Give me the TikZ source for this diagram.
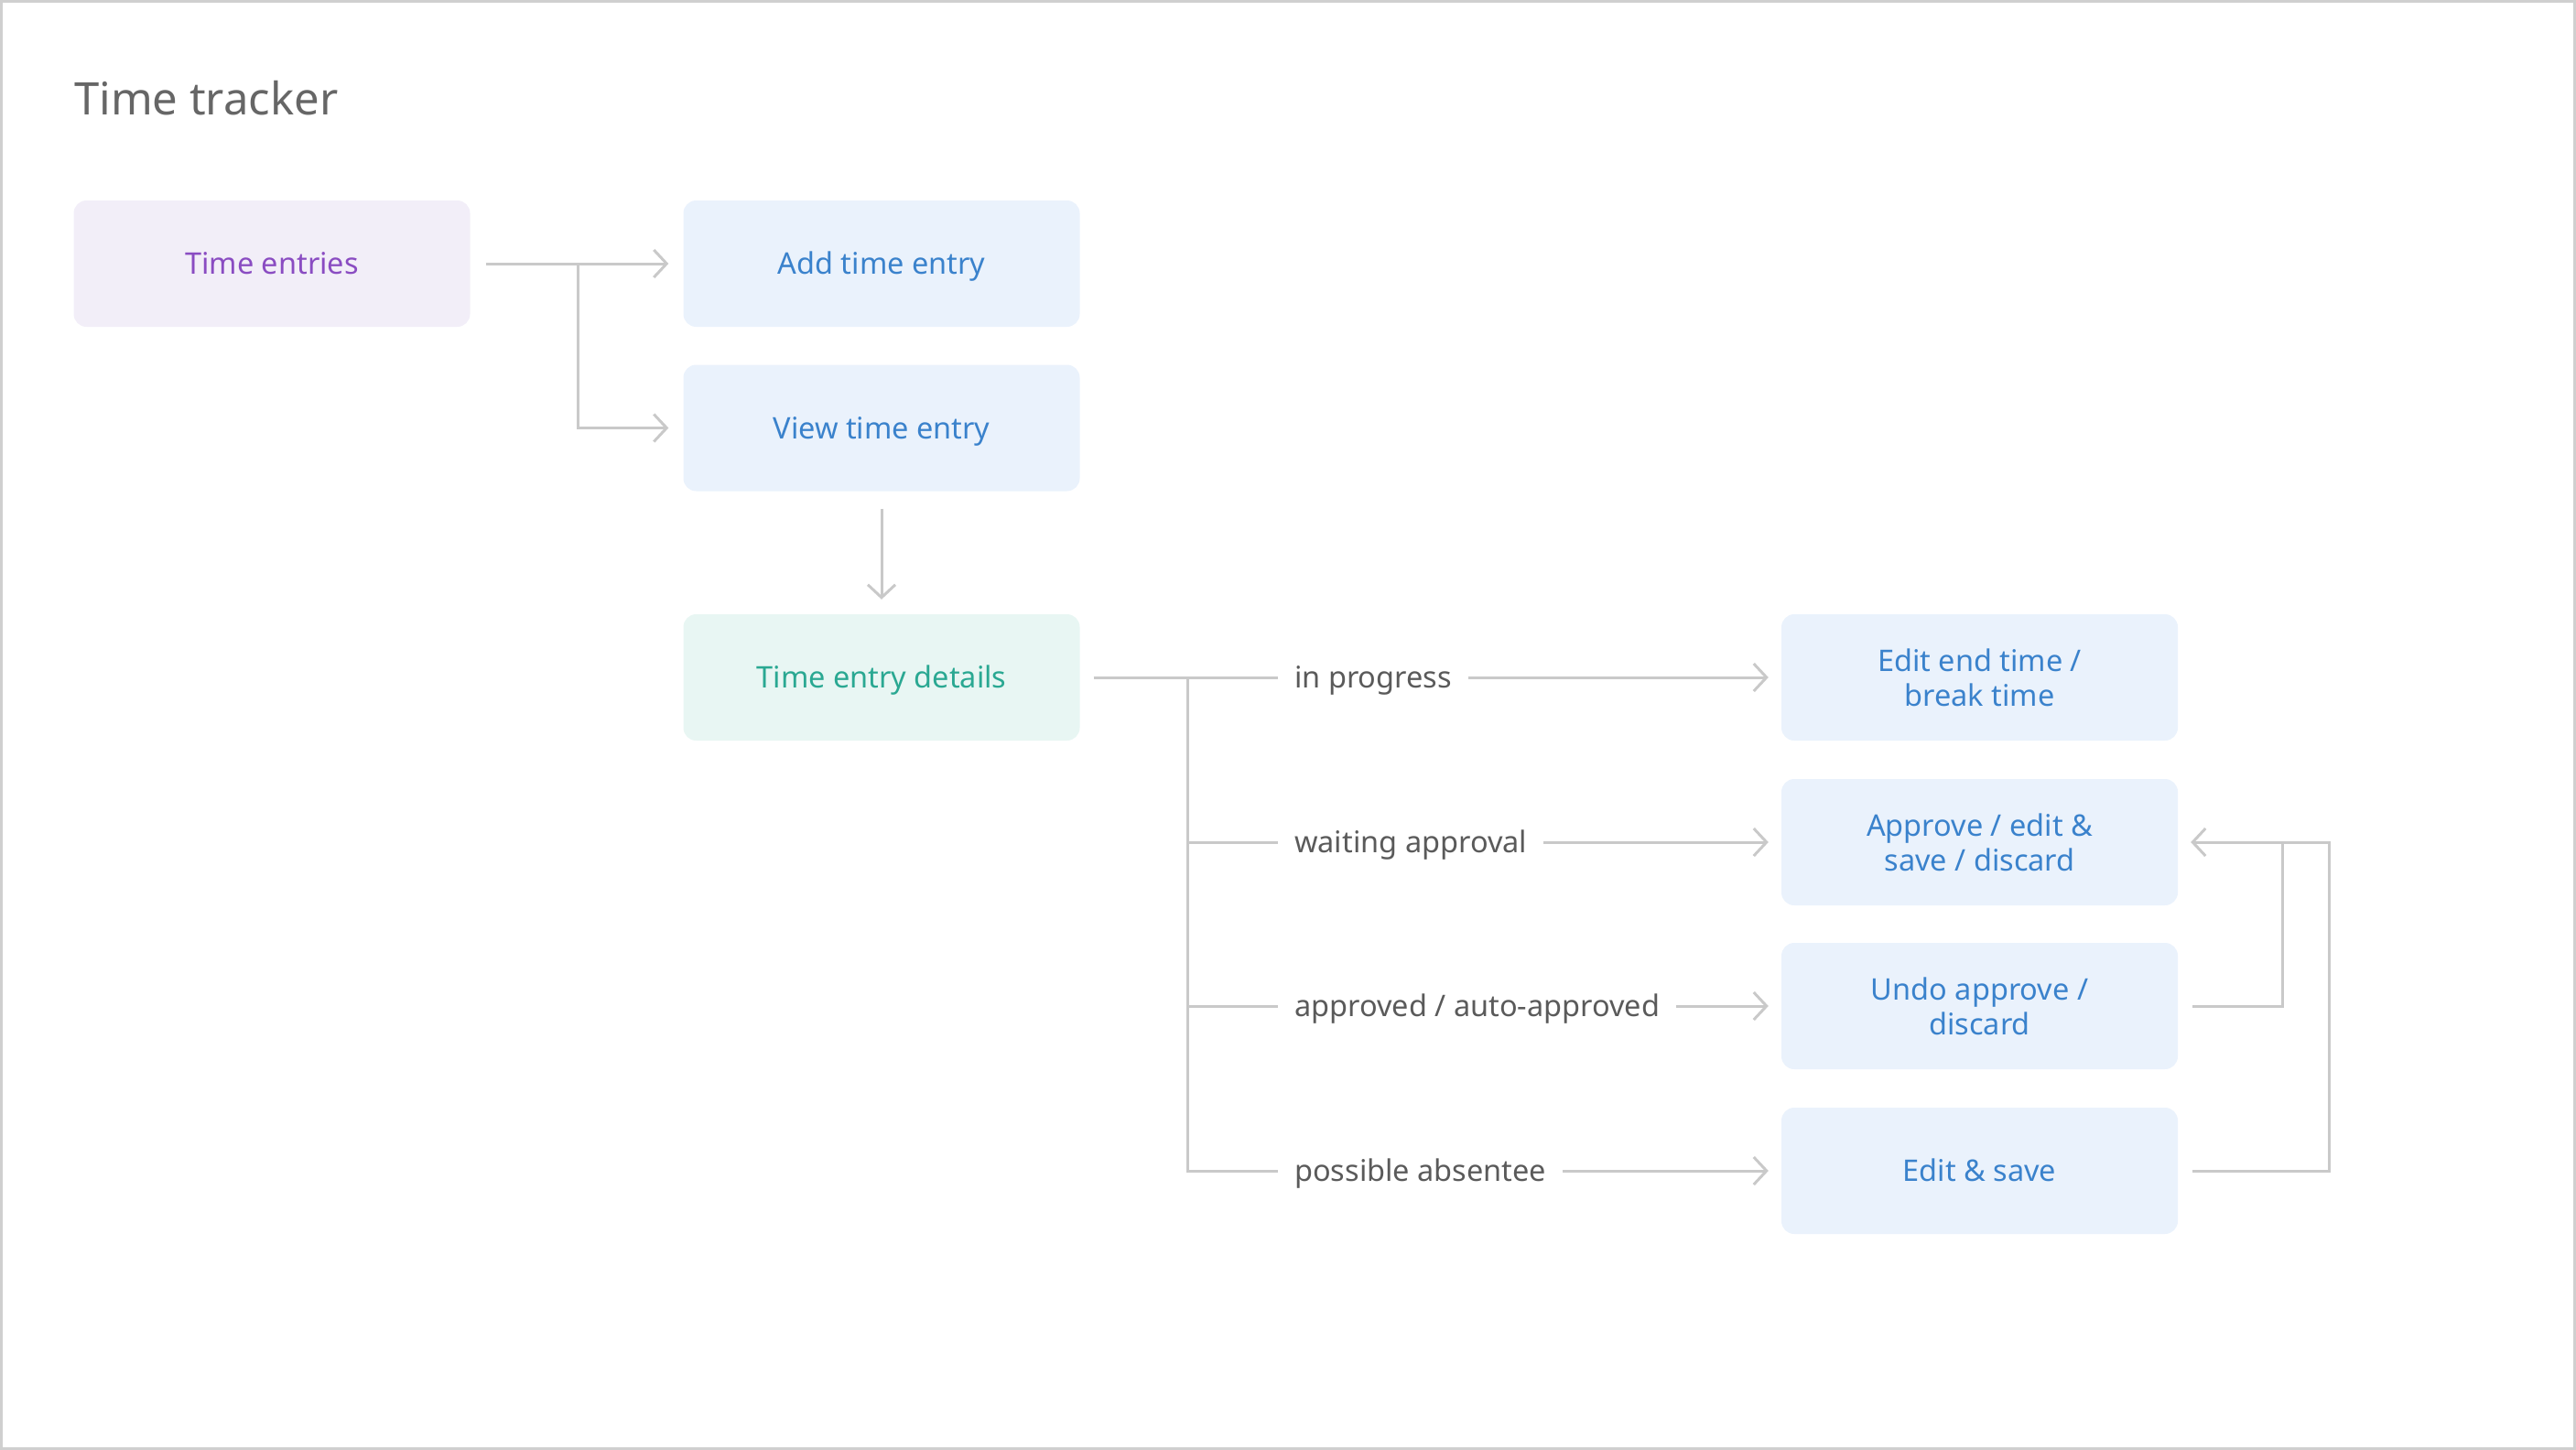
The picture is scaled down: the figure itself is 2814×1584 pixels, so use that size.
\documentclass[tikz,border=0pt]{standalone}
\usepackage{fontspec}
\setmainfont{Noto Sans}
\usetikzlibrary{arrows.meta,calc}
\definecolor{linegray}{HTML}{C9C9C9}
\definecolor{framegray}{HTML}{CFCFCF}
\definecolor{titlegray}{HTML}{666666}
\definecolor{labelgray}{HTML}{5A5A5A}
\definecolor{purplefill}{HTML}{F2EEF8}
\definecolor{purpletext}{HTML}{8A4CC2}
\definecolor{bluefill}{HTML}{EAF2FC}
\definecolor{bluetext}{HTML}{3A82CC}
\definecolor{greenfill}{HTML}{E8F6F3}
\definecolor{greentext}{HTML}{2AA892}
\tikzset{
  boxbase/.style={rectangle, rounded corners=14pt, minimum width=433pt, minimum height=138pt,
    inner sep=0pt, align=center, font=\fontsize{32.5}{38}\selectfont},
  oneline/.style={text height=29.25pt, text depth=6.05pt},
  purplebox/.style={boxbase, oneline, fill=purplefill, text=purpletext},
  bluebox/.style={boxbase, fill=bluefill, text=bluetext},
  greenbox/.style={boxbase, oneline, fill=greenfill, text=greentext},
  condlabel/.style={inner xsep=18pt, inner ysep=0pt, anchor=west, text=labelgray,
    font=\fontsize{32.5}{38}\selectfont, oneline},
  conn/.style={draw=linegray, line width=3pt},
  arrowconn/.style={conn, -{Straight Barb[length=14pt, width=30pt, line width=3pt]}},
}
\begin{document}
\begin{tikzpicture}[x=1pt, y=-1pt]
\useasboundingbox (0,0) rectangle (2814,1584);
\draw[framegray, line width=3pt] (1.5,1.5) rectangle (2812.5,1582.5);

\node[anchor=base west, text=titlegray, font=\fontsize{49}{58}\selectfont, inner sep=0pt] (title) at (81,126) {Time tracker};

\node[purplebox] (te) at (297,288) {Time entries};
\node[bluebox, oneline] (add) at (963,288) {Add time entry};
\node[bluebox, oneline] (view) at (963,467.5) {View time entry};
\node[greenbox] (det) at (963,740) {Time entry details};

\node[bluebox] (r1) at (2162.5,740) {Edit end time /\\break time};
\node[bluebox] (r2) at (2162.5,920) {Approve / edit \&\\save / discard};
\node[bluebox] (r3) at (2162.5,1099) {Undo approve /\\discard};
\node[bluebox, oneline] (r4) at (2162.5,1279) {Edit \& save};

\node[condlabel] (l1) at (1396,740) {in progress};
\node[condlabel] (l2) at (1396,920) {waiting approval};
\node[condlabel] (l3) at (1396,1099) {approved / auto-approved};
\node[condlabel] (l4) at (1396,1279) {possible absentee};

% top branch
\coordinate (tb) at (631,288);
\draw[arrowconn, shorten <=17pt, shorten >=16pt] (te.east) -- (add.west);
\draw[arrowconn, shorten >=16pt] (tb) |- (view.west);
\draw[arrowconn, shorten <=19pt, shorten >=16pt] (view.south) -- (det.north);

% details branch
\coordinate (db) at (1297,740);
\draw[conn, shorten <=15pt] (det.east) -- (l1.west);
\draw[conn] (db) |- (l2.west);
\draw[conn] (db) |- (l3.west);
\draw[conn] (db) |- (l4.west);
\draw[arrowconn, shorten >=14pt] (l1.east) -- (r1.west);
\draw[arrowconn, shorten >=14pt] (l2.east) -- (r2.west);
\draw[arrowconn, shorten >=14pt] (l3.east) -- (r3.west);
\draw[arrowconn, shorten >=14pt] (l4.east) -- (r4.west);

% feedback
\coordinate (j1) at (2493,920);
\coordinate (j2) at (2544,920);
\draw[conn, shorten <=16pt] (r3.east) -| (j1);
\draw[arrowconn, shorten <=16pt, shorten >=14pt] (r4.east) -| (j2) -- (r2.east);
\end{tikzpicture}
\end{document}
